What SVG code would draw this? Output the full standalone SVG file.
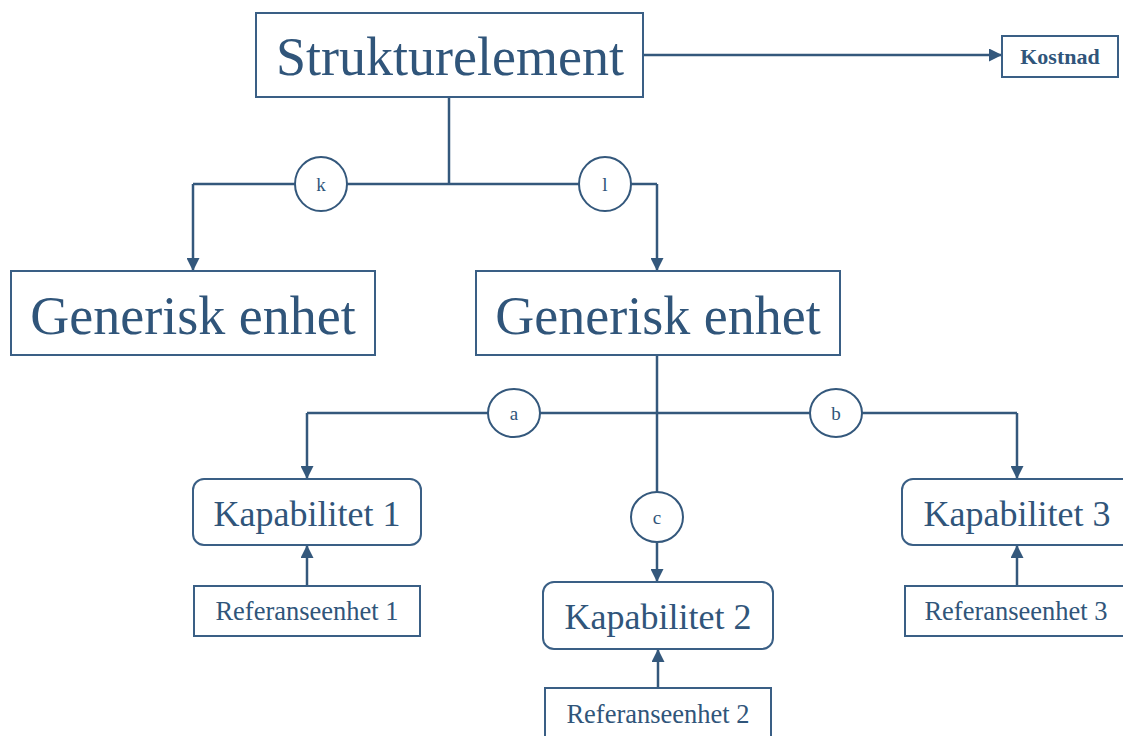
<svg xmlns="http://www.w3.org/2000/svg" width="1123" height="736" viewBox="0 0 1123 736">
<style>
.box{fill:#fff;stroke:#3a5f85;stroke-width:2}
.ln{fill:none;stroke:#34587c;stroke-width:2.5}
.circ{fill:#fff;stroke:#34587c;stroke-width:2}
text{font-family:"Liberation Serif","Times New Roman",serif;fill:#30557a;text-anchor:middle;dominant-baseline:central}
.big{font-size:54px}
.mid{font-size:36px}
.ref{font-size:26.5px}
.lab{font-size:19px}
.kost{font-size:22px;font-weight:bold}
</style>
<defs>
<marker id="ah" markerWidth="13" markerHeight="13" refX="12" refY="6.5" orient="auto" markerUnits="userSpaceOnUse">
<path d="M0,0 L13,6.5 L0,13 Z" fill="#34587c"/>
</marker>
</defs>
<g id="connectors">
<path class="ln" d="M643,55 H1001" marker-end="url(#ah)"/>
<path class="ln" d="M449,97 V184"/>
<path class="ln" d="M193,184 H657"/>
<path class="ln" d="M193,184 V270" marker-end="url(#ah)"/>
<path class="ln" d="M657,184 V270" marker-end="url(#ah)"/>
<path class="ln" d="M657,355 V495"/>
<path class="ln" d="M657,540 V581" marker-end="url(#ah)"/>
<path class="ln" d="M307,413 H1017"/>
<path class="ln" d="M307,413 V478" marker-end="url(#ah)"/>
<path class="ln" d="M1017,413 V478" marker-end="url(#ah)"/>
<path class="ln" d="M307,586 V546" marker-end="url(#ah)"/>
<path class="ln" d="M658,688 V650" marker-end="url(#ah)"/>
<path class="ln" d="M1017,586 V546" marker-end="url(#ah)"/>
</g>
<g id="lbl-k"><ellipse class="circ" cx="321" cy="184" rx="26" ry="27"/><text class="lab" x="321" y="184">k</text></g>
<g id="lbl-l"><ellipse class="circ" cx="605" cy="184" rx="26" ry="27"/><text class="lab" x="605" y="184">l</text></g>
<g id="lbl-a"><ellipse class="circ" cx="514" cy="413" rx="26" ry="24"/><text class="lab" x="514" y="413">a</text></g>
<g id="lbl-b"><ellipse class="circ" cx="836" cy="413" rx="26" ry="24"/><text class="lab" x="836" y="413">b</text></g>
<g id="lbl-c"><ellipse class="circ" cx="657" cy="517" rx="26" ry="25"/><text class="lab" x="657" y="517">c</text></g>
<g id="strukturelement"><rect class="box" x="256" y="13" width="387" height="84"/><text class="big" x="450" y="57">Strukturelement</text></g>
<g id="kostnad"><rect class="box" x="1002" y="36" width="116" height="41"/><text class="kost" x="1060" y="56">Kostnad</text></g>
<g id="generisk1"><rect class="box" x="11" y="271" width="364" height="84"/><text class="big" x="193" y="316">Generisk enhet</text></g>
<g id="generisk2"><rect class="box" x="476" y="271" width="364" height="84"/><text class="big" x="658" y="316">Generisk enhet</text></g>
<g id="kap1"><rect class="box" x="193" y="479" width="228" height="66" rx="11"/><text class="mid" x="307" y="514">Kapabilitet 1</text></g>
<g id="kap2"><rect class="box" x="543" y="582" width="230" height="67" rx="11"/><text class="mid" x="658" y="617">Kapabilitet 2</text></g>
<g id="kap3"><rect class="box" x="902" y="479" width="232" height="66" rx="11"/><text class="mid" x="1017" y="514">Kapabilitet 3</text></g>
<g id="ref1"><rect class="box" x="194" y="586" width="226" height="50"/><text class="ref" x="307" y="611">Referanseenhet 1</text></g>
<g id="ref2"><rect class="box" x="545" y="688" width="226" height="56"/><text class="ref" x="658" y="714">Referanseenhet 2</text></g>
<g id="ref3"><rect class="box" x="905" y="586" width="222" height="50"/><text class="ref" x="1016" y="611">Referanseenhet 3</text></g>
</svg>
